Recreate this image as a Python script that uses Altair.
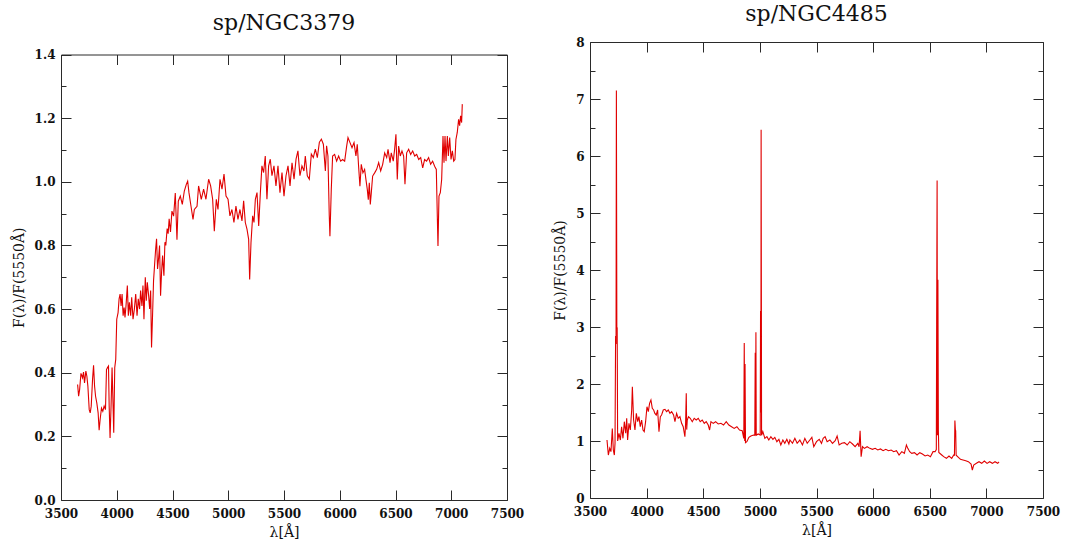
import altair as alt
import pandas as pd

# ---------------- data ----------------
wl_3379 = [3649, 3658, 3667, 3679, 3693, 3702, 3711, 3723, 3732, 3741, 3753, 3762, 3771, 3783, 3792,
           3801, 3810, 3821, 3833, 3842, 3851, 3863, 3875, 3887, 3899, 3908, 3917, 3926, 3932, 3940,
           3949, 3958, 3964, 3973, 3982, 3991, 4000, 4012, 4021, 4030, 4039, 4048, 4057, 4066, 4074,
           4083, 4095, 4104, 4113, 4125, 4134, 4146, 4158, 4170, 4182, 4193, 4205, 4214, 4226, 4235,
           4244, 4256, 4265, 4274, 4286, 4295, 4304, 4312, 4321, 4330, 4339, 4348, 4357, 4366, 4375,
           4384, 4393, 4402, 4411, 4423, 4432, 4440, 4452, 4461, 4470, 4482, 4495, 4510, 4525, 4540,
           4552, 4570, 4588, 4606, 4624, 4636, 4648, 4666, 4684, 4696, 4720, 4734, 4758, 4779, 4800,
           4824, 4842, 4860, 4875, 4893, 4908, 4926, 4944, 4962, 4980, 4998, 5015, 5033, 5051, 5069,
           5087, 5105, 5123, 5138, 5153, 5168, 5183, 5192, 5204, 5219, 5231, 5243, 5258, 5273, 5288,
           5302, 5317, 5332, 5347, 5362, 5377, 5392, 5410, 5428, 5446, 5464, 5482, 5500, 5518, 5536,
           5554, 5572, 5590, 5608, 5625, 5643, 5661, 5679, 5691, 5709, 5727, 5745, 5763, 5781, 5799,
           5817, 5835, 5853, 5871, 5882, 5894, 5906, 5912, 5924, 5936, 5954, 5972, 5990, 6008, 6026,
           6044, 6062, 6074, 6092, 6110, 6128, 6145, 6157, 6169, 6181, 6193, 6208, 6223, 6235, 6247,
           6256, 6265, 6274, 6283, 6295, 6313, 6331, 6349, 6367, 6385, 6403, 6421, 6433, 6451, 6462,
           6480, 6492, 6504, 6516, 6528, 6543, 6558, 6573, 6585, 6600, 6618, 6636, 6654, 6672, 6690,
           6708, 6726, 6744, 6761, 6779, 6797, 6815, 6833, 6851, 6866, 6875, 6881, 6890, 6902, 6914,
           6926, 6935, 6944, 6953, 6965, 6974, 6986, 6998, 7010, 7022, 7033, 7042, 7054, 7066, 7075,
           7084, 7093, 7099]
fl_3379 = [0.363, 0.326, 0.347, 0.398, 0.384, 0.402, 0.368, 0.405, 0.389, 0.358, 0.284, 0.274, 0.295, 0.379, 0.423,
           0.358, 0.326, 0.305, 0.274, 0.219, 0.253, 0.289, 0.279, 0.295, 0.284, 0.410, 0.416, 0.421, 0.295, 0.195,
           0.295, 0.416, 0.337, 0.211, 0.416, 0.442, 0.568, 0.589, 0.632, 0.647, 0.610, 0.647, 0.579, 0.605, 0.574,
           0.610, 0.674, 0.579, 0.621, 0.579, 0.637, 0.568, 0.600, 0.647, 0.579, 0.632, 0.600, 0.658, 0.610, 0.674,
           0.568, 0.700, 0.626, 0.684, 0.642, 0.600, 0.658, 0.479, 0.579, 0.689, 0.737, 0.784, 0.821, 0.726, 0.758,
           0.800, 0.642, 0.716, 0.768, 0.705, 0.810, 0.800, 0.853, 0.837, 0.884, 0.842, 0.908, 0.892, 0.965, 0.818,
           0.939, 0.955, 0.929, 0.971, 0.992, 1.002, 0.965, 0.923, 0.882, 0.913, 0.923, 0.987, 0.945, 0.977, 0.945,
           1.008, 0.987, 0.945, 0.845, 0.945, 0.913, 1.008, 0.977, 1.024, 0.955, 0.945, 0.893, 0.913, 0.872, 0.924,
           0.882, 0.913, 0.877, 0.940, 0.872, 0.851, 0.819, 0.693, 0.809, 0.893, 0.872, 0.945, 0.966, 0.861, 0.966,
           1.050, 1.029, 1.081, 0.945, 1.050, 1.071, 1.019, 1.050, 0.987, 1.050, 0.966, 1.029, 0.955, 1.019, 1.050,
           0.987, 1.060, 1.008, 1.071, 1.097, 1.019, 1.050, 1.034, 1.081, 1.019, 1.008, 1.087, 1.076, 1.103, 1.076,
           1.124, 1.134, 1.118, 1.034, 1.113, 1.081, 0.893, 0.829, 0.976, 1.081, 1.086, 1.065, 1.081, 1.065, 1.070,
           1.065, 1.112, 1.139, 1.123, 1.107, 1.123, 1.081, 1.118, 1.049, 0.986, 1.055, 1.028, 1.039, 1.007, 0.976,
           0.944, 0.997, 0.929, 0.966, 1.018, 1.028, 1.039, 1.060, 1.034, 1.055, 1.091, 1.076, 1.102, 1.060, 1.091,
           1.065, 1.102, 1.149, 1.007, 1.112, 1.081, 1.097, 1.081, 0.992, 1.091, 1.102, 1.086, 1.097, 1.081, 1.086,
           1.070, 1.076, 1.044, 1.070, 1.065, 1.076, 1.055, 1.065, 1.049, 1.039, 0.892, 0.798, 0.955, 0.966, 1.007,
           1.144, 1.060, 1.144, 1.065, 1.144, 1.081, 1.139, 1.070, 1.097, 1.065, 1.070, 1.133, 1.155, 1.196, 1.176,
           1.207, 1.186, 1.244]

wl_4485 = [3650, 3662, 3674, 3685, 3697, 3706, 3715, 3721, 3726, 3730, 3733, 3737, 3740, 3744, 3756,
           3768, 3779, 3791, 3803, 3815, 3824, 3832, 3844, 3856, 3868, 3874, 3885, 3897, 3909, 3921,
           3932, 3944, 3956, 3968, 3979, 3991, 4003, 4015, 4026, 4038, 4050, 4062, 4073, 4085, 4097,
           4109, 4121, 4132, 4147, 4162, 4176, 4191, 4206, 4221, 4238, 4250, 4265, 4279, 4294, 4309,
           4323, 4338, 4344, 4350, 4354, 4359, 4370, 4385, 4403, 4420, 4438, 4456, 4473, 4491, 4509,
           4526, 4544, 4556, 4568, 4588, 4609, 4632, 4656, 4679, 4703, 4726, 4750, 4773, 4797, 4820,
           4844, 4858, 4862, 4866, 4869, 4873, 4885, 4903, 4921, 4944, 4955, 4959, 4962, 4965, 4968,
           4985, 5003, 5006, 5009, 5011, 5015, 5026, 5044, 5062, 5079, 5097, 5115, 5132, 5150, 5168,
           5185, 5203, 5220, 5238, 5256, 5265, 5288, 5309, 5329, 5353, 5376, 5397, 5418, 5441, 5459,
           5476, 5500, 5524, 5544, 5559, 5576, 5594, 5618, 5641, 5665, 5682, 5700, 5723, 5747, 5771,
           5794, 5818, 5841, 5865, 5876, 5885, 5894, 5906, 5923, 5947, 5971, 5994, 6018, 6041, 6065,
           6088, 6112, 6135, 6159, 6182, 6206, 6229, 6253, 6276, 6294, 6306, 6323, 6341, 6365, 6388,
           6412, 6435, 6459, 6482, 6506, 6529, 6547, 6558, 6561, 6565, 6568, 6572, 6576, 6580, 6606,
           6623, 6647, 6670, 6694, 6712, 6718, 6722, 6726, 6729, 6733, 6753, 6771, 6794, 6818, 6841,
           6865, 6876, 6888, 6912, 6935, 6959, 6982, 7006, 7029, 7053, 7076, 7100, 7112]
fl_4485 = [1.017, 0.754, 0.871, 0.813, 1.220, 0.842, 0.754, 0.959, 2.840, 2.700, 7.150, 3.000, 2.980, 1.000, 1.135,
           1.017, 1.251, 1.047, 1.339, 1.135, 1.398, 1.017, 1.310, 1.193, 1.544, 1.953, 1.368, 1.193, 1.485, 1.339,
           1.427, 1.251, 1.368, 1.193, 1.164, 1.339, 1.602, 1.515, 1.661, 1.719, 1.573, 1.544, 1.485, 1.456, 1.544,
           1.164, 1.427, 1.456, 1.544, 1.556, 1.515, 1.544, 1.485, 1.515, 1.456, 1.339, 1.485, 1.398, 1.427, 1.310,
           1.251, 1.076, 1.300, 1.836, 1.200, 1.368, 1.427, 1.398, 1.339, 1.398, 1.368, 1.398, 1.339, 1.368, 1.310,
           1.339, 1.281, 1.193, 1.339, 1.310, 1.339, 1.298, 1.310, 1.281, 1.339, 1.281, 1.251, 1.222, 1.251, 1.193,
           1.181, 1.047, 2.720, 1.000, 2.350, 0.971, 0.988, 1.064, 1.088, 1.105, 1.100, 2.550, 1.100, 2.910, 1.100,
           1.123, 1.105, 3.280, 1.500, 6.460, 1.100, 1.164, 1.047, 1.076, 1.017, 1.076, 1.029, 1.064, 0.988, 1.029,
           0.930, 1.017, 0.959, 1.029, 0.947, 1.017, 0.959, 1.047, 0.959, 1.017, 0.930, 1.047, 0.959, 1.017, 1.064,
           0.900, 0.988, 1.029, 0.959, 1.047, 1.076, 0.988, 1.017, 0.959, 1.006, 1.088, 0.930, 0.959, 0.971, 0.930,
           0.988, 0.947, 0.900, 0.959, 0.900, 1.181, 0.725, 0.900, 0.871, 0.900, 0.871, 0.854, 0.871, 0.842, 0.860,
           0.830, 0.854, 0.830, 0.842, 0.813, 0.830, 0.754, 0.813, 0.784, 0.930, 0.871, 0.813, 0.784, 0.795, 0.754,
           0.795, 0.772, 0.737, 0.754, 0.725, 0.813, 0.813, 0.850, 3.050, 5.570, 1.100, 3.830, 1.200, 0.800, 0.754,
           0.725, 0.696, 0.737, 0.696, 0.754, 0.750, 1.360, 1.200, 1.180, 0.750, 0.713, 0.678, 0.667, 0.655, 0.637,
           0.596, 0.491, 0.579, 0.608, 0.637, 0.608, 0.649, 0.608, 0.637, 0.608, 0.637, 0.608, 0.632]

titles = ["sp/NGC3379", "sp/NGC4485"]
x_title = "λ[Å]"
y_title = "F(λ)/F(5550Å)"
x_ticks = [3500, 4000, 4500, 5000, 5500, 6000, 6500, 7000, 7500]
y_ticks_a = [0.0, 0.2, 0.4, 0.6, 0.8, 1.0, 1.2, 1.4]
y_minor_a = [0.1, 0.3, 0.5, 0.7, 0.9, 1.1, 1.3]
y_ticks_b = [0, 1, 2, 3, 4, 5, 6, 7, 8]
y_minor_b = [0.5, 1.5, 2.5, 3.5, 4.5, 5.5, 6.5, 7.5]

FONT = "DejaVu Serif"
LINE = "#e00000"
INK = "#2a2a2a"


def axis(orient, **kw):
    base = dict(orient=orient, grid=False, domain=False, ticks=False, labels=False,
                tickSize=0, title=None, labelFlush=False, labelOverlap=False,
                minExtent=0)
    base.update(kw)
    return alt.Axis(**base)


def panel(wl, fl, name, ymax, ymajor, yminor, yfmt, width, height, yrange, top_off, title_off):
    df = pd.DataFrame({"wl": wl, "f": fl})
    xs = alt.Scale(domain=[3500, 7500], nice=False, zero=False)
    ykw = dict(domain=[0, ymax], nice=False, zero=False)
    if yrange is not None:
        ykw["range"] = yrange
    ys = alt.Scale(**ykw)

    pairs = [
        (axis("bottom", values=x_ticks, labels=True, domain=True, labelPadding=8, format="d",
              title=x_title, titlePadding=6),
         axis("left", values=ymajor, labels=True, domain=True, labelPadding=6, format=yfmt,
              title=y_title, titlePadding=8)),
        (axis("bottom", values=x_ticks, ticks=True, tickSize=10, offset=-10),
         axis("left", values=ymajor, ticks=True, tickSize=10, offset=-10)),
        (axis("top", domain=True, offset=-top_off),
         axis("left", values=yminor, ticks=True, tickSize=5, offset=-5)),
        (axis("top", values=x_ticks, ticks=True, tickSize=10, offset=-top_off - 10),
         axis("right", domain=True)),
        (None, axis("right", values=ymajor, ticks=True, tickSize=10, offset=-10)),
        (None, axis("right", values=yminor, ticks=True, tickSize=5, offset=-5)),
    ]
    layers = []
    for i, (xa, ya) in enumerate(pairs):
        mark = alt.Chart(df).mark_line(color=LINE, strokeWidth=1.1, strokeOpacity=1 if i == 0 else 0)
        layers.append(mark.encode(
            x=alt.X("wl:Q", scale=xs, axis=xa),
            y=alt.Y("f:Q", scale=ys, axis=ya),
        ))
    return alt.layer(*layers).resolve_axis(x="independent", y="independent").properties(
        width=width, height=height,
        title=alt.TitleParams(name, offset=title_off, baseline="alphabetic", anchor="middle"),
    )


left = panel(wl_3379, fl_3379, titles[0], 1.4, y_ticks_a, y_minor_a, ".1f",
             446, 458, [458, 12.5], 12.5, -9.5)
right = panel(wl_4485, fl_4485, titles[1], 8, y_ticks_b, y_minor_b, "d",
              453, 456, None, 0, -6.6)

chart = alt.hconcat(left, right, spacing=83, bounds="flush").properties(
    padding={"left": 12, "top": 2, "right": 5, "bottom": 5},
).configure_view(stroke=None).configure_axis(
    labelFont=FONT, labelFontSize=12, labelFontWeight="bold", labelColor="#111111",
    titleFont=FONT, titleFontSize=14, titleFontWeight="normal", titleColor="#111111",
    domainColor=INK, tickColor=INK, domainWidth=1, tickWidth=1,
).configure_title(font=FONT, fontSize=22, fontWeight="normal", color="#111111")

chart.save("out.html", embed_options={"renderer": "svg", "actions": False})
